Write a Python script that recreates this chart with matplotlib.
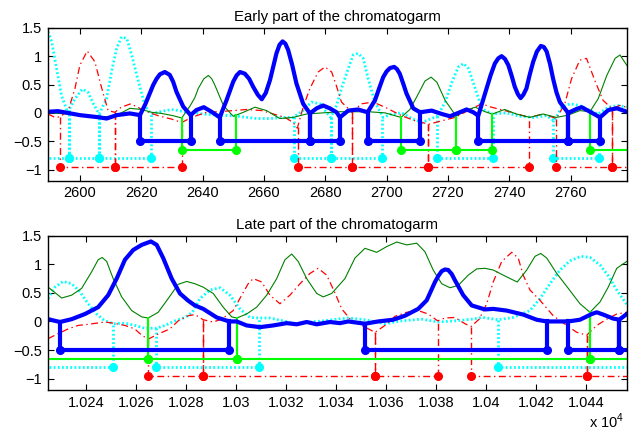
import numpy as np
import matplotlib
matplotlib.use('Agg')
import matplotlib.pyplot as plt

plt.rcParams['font.family'] = ['Liberation Sans', 'DejaVu Sans']
plt.rcParams['font.size'] = 10.5
plt.rcParams['lines.scale_dashes'] = False
plt.rcParams['mathtext.fontset'] = 'custom'
plt.rcParams['mathtext.rm'] = 'Liberation Sans'

# ---------------- early part of the chromatogram ----------------
early_blue = [(2589.6, 0.02), (2592.9, 0.03), (2600, -0.04), (2606.5, -0.08), (2608.7, -0.1),
              (2612, -0.04), (2616.3, -0.01), (2619.6, -0.04), (2621.4, 0.16), (2623.9, 0.49),
              (2625, 0.6), (2626.1, 0.68), (2627.7, 0.72), (2629.3, 0.67), (2630.4, 0.55),
              (2631.5, 0.37), (2633.7, 0.11),
              (2636.1, -0.04), (2638, 0.05), (2640.4, 0.1), (2642.9, 0.02), (2645.6, -0.08),
              (2647.8, 0.22), (2650, 0.55), (2651.1, 0.66), (2652.2, 0.72), (2653.8, 0.69),
              (2655.2, 0.6), (2656.5, 0.46), (2658, 0.32),
              (2659.3, 0.24), (2660.6, 0.35), (2662, 0.58), (2664.1, 1.05), (2665.1, 1.2),
              (2666.1, 1.26), (2667, 1.22), (2667.9, 1.11), (2669.2, 0.85),
              (2670.6, 0.52), (2672.8, 0.16), (2675, -0.01), (2677.2, 0.08), (2679.3, 0.13),
              (2681.5, 0.08), (2683.7, 0.01), (2684.8, -0.08), (2687.5, 0.04), (2690.7, 0.06),
              (2693.8, 0.01), (2696.2, 0.22), (2697.5, 0.42), (2698.9, 0.63), (2700, 0.73),
              (2701.1, 0.79), (2702.5, 0.81), (2703.4, 0.77),
              (2704.3, 0.69), (2705.4, 0.52), (2706.5, 0.34), (2708.7, 0.08), (2710.9, 0.01),
              (2714.7, 0.04),
              (2718, -0.02), (2720.7, -0.06), (2723.4, 0.0), (2726.1, 0.06), (2728.3, 0.01),
              (2729.9, -0.05), (2732.6, 0.43), (2733.9, 0.66), (2735.3, 0.87), (2736.4, 0.96),
              (2737.5, 1.0), (2738.6, 0.95), (2739.7, 0.84), (2740.8, 0.65),
              (2741.8, 0.46), (2742.8, 0.33), (2743.7, 0.26), (2744.6, 0.32), (2745.6, 0.43),
              (2746.7, 0.68), (2747.8, 0.9), (2749, 1.08), (2750.3, 1.18), (2751.3, 1.16),
              (2752.2, 1.08), (2753.3, 0.86), (2754.3, 0.6), (2755.4, 0.36), (2756.5, 0.19),
              (2759.2, 0.0), (2762, 0.07),
              (2763.6, 0.1), (2766.3, 0.02), (2769.6, -0.08), (2772.3, 0.05), (2775.1, 0.08),
              (2778.3, 0.02)]
early_green = [(2589.6, 0.0), (2600, -0.03), (2606, -0.07), (2611.4, -0.06), (2616.3, 0.08),
               (2620.1, 0.06), (2623.4, 0.01), (2626.6, -0.01), (2630.4, -0.05), (2633.2, -0.09),
               (2635.9, 0.12), (2637.5, 0.27), (2638.6, 0.43), (2640.4, 0.6), (2641.9, 0.66),
               (2643, 0.6), (2644, 0.49),
               (2646.8, 0.13), (2650, -0.06), (2653.3, 0.01), (2657.1, 0.1), (2660.9, 0.04),
               (2665.2, -0.1), (2669.5, -0.08), (2673.9, -0.02), (2679.3, 0.0), (2684.8, 0.02),
               (2694, 0.02), (2699.5, 0.0), (2704.7, -0.08), (2707.6, 0.06), (2710.4, 0.34),
               (2712.5, 0.56), (2714.5, 0.63), (2716.4, 0.54), (2719.1, 0.22), (2722.7, -0.06),
               (2725.6, 0.04), (2728.9, 0.1), (2732.1, 0.02), (2734.5, -0.02), (2738.5, 0.06),
               (2742.3, -0.02), (2746.7, -0.08), (2751, -0.02), (2755.4, -0.08), (2759.2, -0.04),
               (2763, 0.04), (2766.3, 0.02), (2769, 0.25), (2771.8, 0.66), (2774.5, 0.96),
               (2776.1, 1.02), (2778.3, 0.84)]
early_red = [(2589.6, -0.02), (2591.9, -0.08), (2593.5, -0.07), (2596.2, 0.04), (2598.4, 0.43),
             (2600, 0.84), (2602.4, 1.09), (2604.9, 0.9), (2607, 0.46), (2609.2, 0.04),
             (2611.4, 0.01), (2613.5, 0.1), (2616.6, 0.16), (2621, 0.04), (2625.5, -0.05),
             (2629.9, -0.11), (2633.2, -0.17), (2636.4, -0.08), (2641.3, 0.01), (2645.1, 0.02),
             (2650, 0.04), (2654.4, 0.06), (2659.3, 0.04), (2663.1, -0.02), (2666.9, -0.08),
             (2669.5, -0.17), (2670.9, -0.27), (2672.8, 0.1), (2675, 0.43), (2677.7, 0.72),
             (2679.9, 0.81), (2682.1, 0.72), (2683.5, 0.5), (2685.3, 0.19), (2688.8, 0.01),
             (2691.8, 0.16), (2695.6, 0.19), (2699.5, 0.1), (2704.9, -0.05), (2709.3, -0.14),
             (2713.8, -0.2), (2718, -0.14), (2722.3, -0.08), (2726.6, 0.04), (2731, 0.16),
             (2734.2, 0.1), (2740.7, 0.01), (2746.5, -0.08), (2751, -0.02), (2755.4, -0.1),
             (2758.1, 0.16), (2760.3, 0.6), (2763, 0.93), (2765.2, 0.96), (2767.9, 0.57),
             (2770.6, 0.22), (2773.4, 0.08), (2776.1, 0.13), (2778.3, 0.1)]
early_cyan = [(2589.6, 1.43), (2590.8, 1.26), (2592.4, 0.78), (2594, 0.31), (2596, 0.01),
              (2598.4, 0.25), (2600.8, 0.42), (2602.7, 0.36), (2604.4, 0.16), (2606.3, -0.02),
              (2608.7, 0.25), (2610.3, 0.72), (2612, 1.14), (2613.6, 1.34), (2615.3, 1.31),
              (2616.9, 1.02), (2619.1, 0.55), (2621.2, 0.13), (2623.2, -0.02), (2626.1, 0.02),
              (2629.9, 0.06), (2634.3, 0.02), (2640, -0.02), (2645, -0.04), (2650, -0.05),
              (2654.4, -0.08), (2657.6, -0.1), (2662, -0.1), (2666.3, -0.08), (2669.5, -0.08),
              (2672.8, 0.04), (2675.5, 0.19), (2678.3, 0.16), (2680.4, 0.01), (2681.8, -0.08),
              (2683.7, 0.13), (2685.3, 0.43), (2687.5, 0.78), (2689.1, 1.02), (2690.7, 1.05),
              (2692.4, 0.96), (2694, 0.6), (2696.2, 0.19), (2698.9, -0.08), (2701.6, -0.02),
              (2704.9, 0.0), (2708.2, -0.1), (2711.5, -0.17), (2714.7, -0.1), (2716.7, -0.05),
              (2719.1, 0.19), (2721.3, 0.54), (2723.4, 0.81), (2725.1, 0.87), (2726.7, 0.78),
              (2728.9, 0.43), (2731.1, 0.07), (2734.5, -0.02), (2739.1, 0.0), (2743.5, -0.06),
              (2747.8, -0.08), (2752.2, -0.05), (2754.6, -0.14), (2757.1, 0.1), (2759.8, 0.16),
              (2763, 0.13), (2766.3, 0.04), (2769, -0.02), (2772.3, 0.1), (2775.6, 0.13),
              (2778.3, 0.1)]

early_blue_peaks = [(2619.6, 2636.1), (2645.6, 2675), (2675, 2684.8), (2693.8, 2710.9),
                    (2729.9, 2759.2), (2759.2, 2769.6)]
early_green_peaks = [(2633.2, 2651), (2704.6, 2722.5), (2722.5, 2734.5), (2766.3, 2800)]
early_cyan_peaks = [(2570, 2596.4), (2596.4, 2606.3), (2606.3, 2623.2), (2669.9, 2681.8),
                    (2681.8, 2698.6), (2716.6, 2734.6), (2754.3, 2769.3)]
early_red_peaks = [(2593.5, 2611.4), (2611.4, 2633.2), (2671, 2688.8), (2688.8, 2713.5),
                   (2713.5, 2746.5), (2755.4, 2773.4), (2773.4, 2800)]

# ---------------- late part of the chromatogram ----------------
late_blue = [(10224.9, 0.04), (10229.6, -0.01), (10234.3, 0.04), (10239.6, 0.13), (10244.9, 0.25),
             (10248.9, 0.46), (10252.3, 0.75), (10255.6, 1.08), (10258.9, 1.25), (10262.3, 1.34),
             (10266, 1.4), (10268.3, 1.34), (10270.9, 1.11), (10274.3, 0.75), (10277.6, 0.49),
             (10281, 0.36), (10283.6, 0.28), (10286.9, 0.22), (10292.3, 0.07), (10297.3, 0.0),
             (10300.3, 0.0), (10304.3, -0.07), (10309.6, -0.1), (10314.9, -0.07), (10320.3, -0.03),
             (10324.3, -0.05), (10328.3, -0.01), (10332.3, -0.05), (10337.6, -0.01), (10341.6, -0.03),
             (10344.9, 0.0), (10351.6, -0.04), (10356.9, 0.0), (10362.9, 0.03), (10367.6, 0.1),
             (10372.9, 0.22), (10376.3, 0.37), (10379.6, 0.69), (10381, 0.8), (10382.3, 0.88),
             (10383.6, 0.91), (10384.9, 0.9), (10386.3, 0.83),
             (10387.6, 0.72), (10390.9, 0.46), (10394.3, 0.28), (10399.6, 0.21), (10402.9, 0.22),
             (10408.3, 0.19), (10414.9, 0.12), (10420.3, 0.03), (10424.3, 0.0), (10428.9, 0.0),
             (10432.9, 0.0), (10437.6, 0.03), (10442.3, 0.13), (10444.3, 0.16), (10446.9, 0.12),
             (10450.9, 0.05), (10453.3, 0.03), (10456.3, 0.13)]
late_green = [(10224.9, 0.6), (10230.3, 0.41), (10234.3, 0.46), (10238.3, 0.58), (10242.3, 0.87),
              (10244.9, 1.08), (10246.5, 1.12), (10248.3, 1.05), (10250.9, 0.75), (10254.3, 0.43),
              (10258.3, 0.19), (10262.3, 0.08), (10264.9, 0.06), (10268.9, 0.16), (10272.9, 0.4),
              (10276.9, 0.65), (10280.3, 0.7), (10283.6, 0.66), (10286.9, 0.6), (10290.9, 0.49),
              (10294.9, 0.25), (10298.3, 0.08), (10300.3, 0.06), (10304.3, 0.13), (10308.3, 0.25),
              (10312.3, 0.46), (10316.3, 0.75), (10319.6, 1.08), (10322.3, 1.18), (10324.9, 1.05),
              (10328.3, 0.75), (10332.3, 0.49), (10334.9, 0.43), (10338.3, 0.49), (10343.6, 0.75),
              (10347.6, 1.11), (10351.6, 1.28), (10356.3, 1.21), (10360.3, 1.31), (10364.3, 1.39),
              (10368.3, 1.34), (10372.3, 1.37), (10375.6, 1.22), (10378.9, 0.9), (10382.3, 0.66),
              (10385.6, 0.59), (10388.9, 0.63), (10392.9, 0.81), (10396.3, 0.92), (10399.6, 0.93),
              (10402.9, 0.9), (10408.3, 0.78), (10412.5, 0.69), (10416.3, 0.9), (10419.6, 1.14),
              (10421.9, 1.19), (10424.3, 1.11), (10428.3, 0.84), (10432.9, 0.58), (10437.6, 0.31),
              (10441.6, 0.16), (10445.6, 0.34), (10448.9, 0.6), (10452.3, 0.93), (10456.3, 1.05)]
late_red = [(10224.9, -0.3), (10228.6, -0.22), (10232.9, -0.13), (10236.9, -0.07), (10240.9, -0.05),
            (10247.6, -0.01), (10251, -0.03), (10255.6, -0.07), (10259.5, -0.13), (10262.3, -0.24),
            (10264.9, -0.31), (10268.9, -0.22), (10273.6, -0.13), (10276.9, 0.01), (10280.9, 0.1),
            (10283.6, 0.12), (10286.9, 0.03), (10290.9, -0.01), (10294.3, 0.04), (10298.9, 0.19),
            (10302.3, 0.46), (10304.9, 0.66), (10306.9, 0.75), (10310.3, 0.69), (10313.6, 0.46),
            (10317.6, 0.31), (10321.6, 0.46), (10325.6, 0.66), (10329.6, 0.84), (10332.9, 0.93),
            (10336.3, 0.81), (10339.6, 0.5), (10342.3, 0.22), (10346.3, 0.01), (10350.3, -0.07),
            (10355.6, -0.19), (10359.6, -0.07), (10363.6, 0.09), (10368.3, 0.16), (10372.9, 0.19),
            (10376.9, 0.13), (10380.7, 0.01), (10383.6, 0.06), (10387.6, 0.07), (10391.6, -0.04),
            (10394, -0.09), (10397.3, 0.04), (10400.3, 0.31), (10402.9, 0.69), (10406.3, 1.05),
            (10410.3, 1.21), (10412.9, 1.11), (10414.9, 0.81), (10417.6, 0.55), (10421.6, 0.37),
            (10426.9, 0.1), (10432.3, -0.07), (10436.3, -0.19), (10440.3, -0.24), (10444.3, -0.07),
            (10448.3, 0.04), (10452.3, 0.13), (10456.3, 0.16)]
late_cyan = [(10224.9, 0.4), (10227.6, 0.6), (10230.9, 0.7), (10234.3, 0.66), (10237.6, 0.52),
             (10240.9, 0.31), (10244.3, 0.13), (10247.6, 0.01), (10250.9, -0.04), (10255.6, -0.03),
             (10259.6, -0.07), (10263.6, -0.12), (10268, -0.12), (10271.6, -0.07), (10275.6, 0.01),
             (10279.6, 0.07), (10282.6, 0.16), (10285.6, 0.4), (10289.6, 0.55), (10293.6, 0.59),
             (10297.6, 0.46), (10301.6, 0.22), (10305.6, 0.07), (10309.3, 0.06), (10313.6, 0.06),
             (10318.9, 0.01), (10324.3, -0.04), (10329.6, -0.01), (10334.9, 0.01), (10340.3, 0.04),
             (10344.9, 0.06), (10351.6, 0.03), (10359.6, -0.04), (10366.3, 0.01), (10374.3, 0.04),
             (10380.9, -0.01), (10387.6, 0.01), (10394.3, 0.04), (10398.6, 0.07), (10404.9, 0.03),
             (10410.9, 0.07), (10417.6, 0.19), (10421.6, 0.4), (10425.6, 0.66), (10429.6, 0.9),
             (10433.6, 1.06), (10438, 1.14), (10441.6, 1.12), (10445.6, 0.99), (10448.9, 0.8),
             (10452.3, 0.55), (10456.3, 0.3)]

late_blue_peaks = [(10229.6, 10297.3), (10351.6, 10424.3), (10432.9, 10453.3), (10453.3, 10480)]
late_green_peaks = [(10200, 10264.9), (10264.9, 10300.3), (10300.3, 10441.6), (10441.6, 10480)]
late_cyan_peaks = [(10200, 10250.9), (10268, 10309.3), (10404.9, 10480)]
late_red_peaks = [(10264.9, 10286.9), (10286.9, 10355.6), (10355.6, 10380.7), (10394, 10440.3),
                  (10440.3, 10480)]

y_ticks = [-1, -0.5, 0, 0.5, 1, 1.5]
y_tick_labels = ['\u22121', '\u22120.5', '0', '0.5', '1', '1.5']
early_ticks = [2600, 2620, 2640, 2660, 2680, 2700, 2720, 2740, 2760]
late_ticks = [10240, 10260, 10280, 10300, 10320, 10340, 10360, 10380, 10400, 10420, 10440]
late_tick_labels = ['1.024', '1.026', '1.028', '1.03', '1.032', '1.034', '1.036', '1.038',
                    '1.04', '1.042', '1.044']

CYAN = (0, 1, 1)
# channel styles: curve style, segment style, level of the peak bars
blue_st = dict(curve=dict(color='b', lw=3), seg=dict(color='b', lw=3), mc='b', level=-0.5)
green_st = dict(curve=dict(color=(0, 0.5, 0), lw=0.8), seg=dict(color=(0, 1, 0), lw=1.5),
                mc=(0, 1, 0), level=-0.65)
red_st = dict(curve=dict(color='r', lw=0.9, dashes=(5, 2.5, 1, 2.5)),
              seg=dict(color='r', lw=1.0, dashes=(5, 2.5, 1, 2.5)), mc='r', level=-0.95)
cyan_st = dict(curve=dict(color=CYAN, lw=2.0, dashes=(1.3, 1.7)),
               seg=dict(color=CYAN, lw=2.0, dashes=(1.3, 1.7)), mc=CYAN, level=-0.8)


def draw_channel(ax, pts, peaks, st):
    x, y = np.array(pts).T
    ax.plot(x, y, **st['curve'])
    lev = st['level']
    for s, e in peaks:
        ys = np.interp(s, x, y)
        ye = np.interp(e, x, y)
        ax.plot([s, s, e, e], [ys, lev, lev, ye], **st['seg'])
        ax.plot([s, e], [lev, lev], 'o', color=st['mc'], ms=5.5, mec=st['mc'])


fig = plt.figure(figsize=(6.39, 4.36), dpi=100)
ax1 = fig.add_axes([0.0746, 0.585, 0.9062, 0.3513])
ax2 = fig.add_axes([0.0746, 0.1055, 0.9062, 0.3538])

panels = [
    (ax1, early_cyan, early_red, early_green, early_blue,
     early_cyan_peaks, early_red_peaks, early_green_peaks, early_blue_peaks),
    (ax2, late_cyan, late_red, late_green, late_blue,
     late_cyan_peaks, late_red_peaks, late_green_peaks, late_blue_peaks),
]
for ax, c, r, g, b, cp, rp, gp, bp in panels:
    draw_channel(ax, c, cp, cyan_st)
    draw_channel(ax, r, rp, red_st)
    draw_channel(ax, g, gp, green_st)
    draw_channel(ax, b, bp, blue_st)
    ax.set_ylim(-1.2, 1.5)
    ax.set_yticks(y_ticks)
    ax.set_yticklabels(y_tick_labels)
    ax.tick_params(direction='in', top=True, right=True, length=4, width=0.8, pad=4,
                   labelsize=10.5)
    for sp in ax.spines.values():
        sp.set_linewidth(1.0)

ax1.set_xlim(2589.5, 2778.3)
ax1.set_xticks(early_ticks)
ax1.set_title('Early part of the chromatogarm', fontsize=10.8, pad=5)

ax2.set_xlim(10224.7, 10456.3)
ax2.set_xticks(late_ticks)
ax2.set_xticklabels(late_tick_labels)
ax2.set_title('Late part of the chromatogarm', fontsize=10.8, pad=5)

fig.text(0.977, 0.012, r'x 10$^4$', ha='right', va='bottom', fontsize=10.5)

fig.savefig('out.png', dpi=100)
